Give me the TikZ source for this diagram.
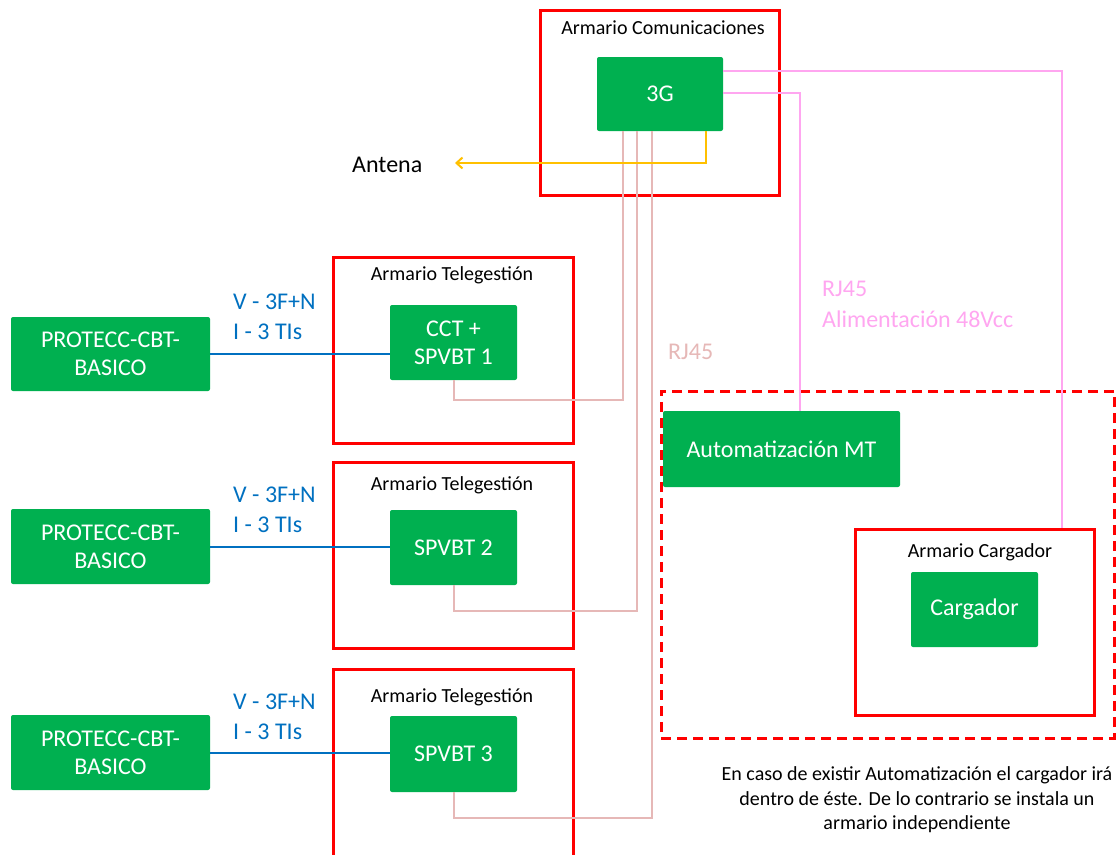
\documentclass[tikz,border=0pt]{standalone}
\usepackage{fontspec}
\setmainfont{Carlito}
\usetikzlibrary{arrows.meta,calc}
\definecolor{gr}{HTML}{00B050}
\definecolor{rd}{HTML}{FF0000}
\definecolor{bl}{HTML}{0070C0}
\definecolor{pk}{HTML}{FFA6F0}
\definecolor{sal}{HTML}{E6B8B7}
\definecolor{yl}{HTML}{FFC000}
\begin{document}
\begin{tikzpicture}[x=1pt,y=-1pt,
  gbox/.style={fill=gr, rounded corners=2pt, text=white, align=center, inner sep=0pt,
    font=\fontsize{24}{28}\selectfont},
  redbox/.style={draw=rd, line width=3pt, inner sep=0pt},
  dbox/.style={draw=rd, line width=3pt, inner sep=0pt, dash pattern=on 10pt off 6pt},
  lbl/.style={inner sep=0pt, font=\fontsize{20}{24}\selectfont, text=black},
  salline/.style={draw=sal, line width=2pt},
  pline/.style={draw=pk, line width=2pt},
  bline/.style={draw=bl, line width=2pt},
  yline/.style={draw=yl, line width=2pt, -{Straight Barb[length=6pt,width=11pt]}},
  bltxt/.style={inner sep=0pt, align=left, text=bl, font=\fontsize{24}{30}\selectfont},
]
\useasboundingbox (0,0) rectangle (1116,854);
\clip (0,0) rectangle (1116,854);

% containers
\node[redbox, minimum width=239pt, minimum height=185pt] (acom) at (659.5,102.5) {};
\node[redbox, minimum width=240pt, minimum height=186pt] (t1) at (453,350) {};
\node[redbox, minimum width=240pt, minimum height=186pt] (t2) at (453,555) {};
\node[redbox, minimum width=240pt, minimum height=211pt] (t3) at (453,774.5) {};
\node[dbox, minimum width=453pt, minimum height=347pt] (dash) at (887.5,564.5) {};
\node[redbox, minimum width=239pt, minimum height=186pt] (acar) at (974.5,622) {};

% container labels
\node[lbl] (lcom) at (663,28) {Armario Comunicaciones};
\node[lbl] (lt1) at (452,275) {Armario Telegestión};
\node[lbl] (lt2) at (452,485) {Armario Telegestión};
\node[lbl] (lt3) at (452,697) {Armario Telegestión};
\node[lbl] (lcar) at (980,552) {Armario Cargador};

% green nodes
\node[gbox, minimum width=126pt, minimum height=74pt] (g3) at (660,94) {3G};
\node[gbox, minimum width=127pt, minimum height=75pt] (s1) at (453.5,342.5) {CCT +\\SPVBT 1};
\node[gbox, minimum width=127pt, minimum height=75pt] (s2) at (453.5,547.5) {SPVBT 2};
\node[gbox, minimum width=127pt, minimum height=76pt] (s3) at (453.5,754) {SPVBT 3};
\node[gbox, minimum width=199pt, minimum height=74pt] (p1) at (110.5,354) {PROTECC-CBT-\\BASICO};
\node[gbox, minimum width=199pt, minimum height=75pt] (p2) at (110.5,546.5) {PROTECC-CBT-\\BASICO};
\node[gbox, minimum width=199pt, minimum height=75pt] (p3) at (110.5,752.5) {PROTECC-CBT-\\BASICO};
\node[gbox, minimum width=237pt, minimum height=76pt] (amt) at (781.5,449) {Automatización MT};
\node[gbox, minimum width=127pt, minimum height=75pt] (cg) at (974.5,609.5) {Cargador};

% connectors
\draw[salline] (s1.south) -- ++(0,20) -| ([xshift=26pt]g3.south west);
\draw[salline] (s2.south) -- ++(0,26) -| ([xshift=40pt]g3.south west);
\draw[salline] (s3.south) -- ++(0,26) -| ([xshift=55pt]g3.south west);
\draw[pline] ([yshift=-14pt]g3.north east) -| ([xshift=-34pt]acar.north east);
\draw[pline] ([yshift=-36pt]g3.north east) -| ([xshift=-100pt]amt.north east);
\coordinate (ant) at (455,163);
\draw[yline] ([xshift=-17pt]g3.south east) |- (ant);
\draw[bline] (p1.east) -- (p1.east -| s1.west);
\draw[bline] (p2.east) -- (p2.east -| s2.west);
\draw[bline] (p3.east) -- (p3.east -| s3.west);

% texts
\node[inner sep=0pt, anchor=west, font=\fontsize{24}{28}\selectfont] (antena) at (352,165) {Antena};
\node[bltxt, anchor=west] (v1) at (233,317) {V - 3F+N\\I - 3 TIs};
\node[bltxt, anchor=west] (v2) at (233,510) {V - 3F+N\\I - 3 TIs};
\node[bltxt, anchor=west] (v3) at (233,717) {V - 3F+N\\I - 3 TIs};
\node[inner sep=0pt, anchor=west, text=sal, font=\fontsize{24}{28}\selectfont] (rj1) at (668,352) {RJ45};
\node[inner sep=0pt, anchor=west, align=left, text=pk, font=\fontsize{24}{31}\selectfont] (rj2) at (822,304.5) {RJ45\\Alimentación 48Vcc};
\node[inner sep=0pt, align=center, font=\fontsize{20}{24.5}\selectfont] (note) at (917,800) {En caso de existir Automatización el cargador irá\\dentro de éste. De lo contrario se instala un\\armario independiente};
\end{tikzpicture}
\end{document}
